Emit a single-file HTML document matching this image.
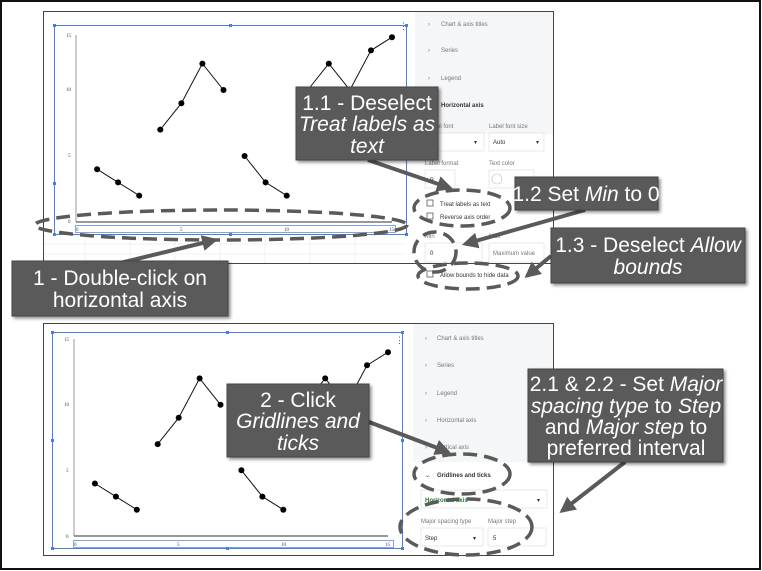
<!DOCTYPE html>
<html><head><meta charset="utf-8"><style>
html,body{margin:0;padding:0;background:#fff;}
svg{display:block;}
.t{font-family:"Liberation Sans Narrow","Liberation Sans",sans-serif;fill:#fff;font-size:21px;text-anchor:middle;}
.s{font-family:"Liberation Sans",sans-serif;font-size:6px;fill:#333;}
.g{font-family:"Liberation Sans",sans-serif;font-size:6px;fill:#777;}
.ax{font-family:"Liberation Serif",serif;font-size:5px;fill:#444;}
</style></head><body>
<svg width="762" height="571" viewBox="0 0 762 571" xmlns="http://www.w3.org/2000/svg">
<defs>
<filter id="sh" x="-10%" y="-10%" width="130%" height="130%"><feDropShadow dx="2" dy="2" stdDeviation="1.5" flood-color="#000" flood-opacity="0.45"/></filter>
<marker id="ah" markerWidth="4" markerHeight="4" refX="3.2" refY="2" orient="auto" markerUnits="strokeWidth"><path d="M0,0 L4,2 L0,4 z" fill="#5a5a5a"/></marker>
</defs>
<rect x="1" y="1" width="759" height="568" fill="#fff" stroke="#111" stroke-width="2"/>

<!-- TOP PANEL -->
<rect x="43" y="11" width="510" height="404" fill="none"/>
<g>
<rect x="43.5" y="11.5" width="510" height="252" fill="#fff" stroke="#444"/>
<g stroke="#e6e6e6" stroke-width="0.6">
<line x1="44" y1="244" x2="405" y2="244"/><line x1="44" y1="254" x2="405" y2="254"/>
<line x1="85" y1="236" x2="85" y2="263"/><line x1="130" y1="236" x2="130" y2="263"/><line x1="175" y1="236" x2="175" y2="263"/><line x1="220" y1="236" x2="220" y2="263"/><line x1="265" y1="236" x2="265" y2="263"/><line x1="310" y1="236" x2="310" y2="263"/><line x1="355" y1="236" x2="355" y2="263"/>
</g>
<rect x="415" y="12" width="138" height="122" fill="#f5f6f7"/>
<rect x="54.5" y="25.5" width="352" height="209" fill="none" stroke="#4a7fe0" stroke-width="1"/>
<g fill="#4a7fe0"><rect x="53" y="24" width="3" height="3"/><rect x="229" y="24" width="3" height="3"/><rect x="405" y="24" width="3" height="3"/><rect x="53" y="182" width="3" height="3"/><rect x="53" y="233" width="3" height="3"/><rect x="229" y="233" width="3" height="3"/><rect x="405" y="233" width="3" height="3"/></g>
<line x1="76" y1="35" x2="76" y2="222" stroke="#555" stroke-width="0.6"/>
<line x1="76" y1="222" x2="392" y2="222" stroke="#777" stroke-width="1.5"/>
<rect x="75.5" y="225.5" width="320" height="7" fill="none" stroke="#4a7fe0" stroke-width="0.7"/>
<text class="ax" x="66" y="37">15</text><text class="ax" x="66" y="91">10</text><text class="ax" x="68" y="157">5</text><text class="ax" x="68" y="223">0</text>
<text class="ax" x="76" y="231">0</text><text class="ax" x="180" y="231">5</text><text class="ax" x="284" y="231">10</text><text class="ax" x="389" y="231">15</text>
<text x="399" y="29" font-size="9" fill="#555" font-family="Liberation Sans,sans-serif">⋮</text>
<g stroke="#111" stroke-width="1" fill="none">
<polyline points="97.1,169.2 118.1,182.4 139.2,195.6"/>
<polyline points="160.3,129.6 181.4,103.2 202.4,63.6 223.5,90"/>
<polyline points="244.6,156 265.6,182.4 286.7,195.6"/>
<polyline points="307.8,90 328.8,63.6 349.9,90 371,50.4 392,37.2"/>
</g>
<g fill="#000">
<circle cx="97.1" cy="169.2" r="3"/><circle cx="118.1" cy="182.4" r="3"/><circle cx="139.2" cy="195.6" r="3"/>
<circle cx="160.3" cy="129.6" r="3"/><circle cx="181.4" cy="103.2" r="3"/><circle cx="202.4" cy="63.6" r="3"/><circle cx="223.5" cy="90" r="3"/>
<circle cx="244.6" cy="156" r="3"/><circle cx="265.6" cy="182.4" r="3"/><circle cx="286.7" cy="195.6" r="3"/>
<circle cx="328.8" cy="63.6" r="3"/><circle cx="371" cy="50.4" r="3"/><circle cx="392" cy="37.2" r="3"/>
</g>
<!-- sidebar -->
<g class="g"><text x="428" y="26" font-size="6">›</text><text x="441" y="26">Chart &amp; axis titles</text>
<text x="428" y="52">›</text><text x="441" y="52">Series</text>
<text x="428" y="80">›</text><text x="441" y="80">Legend</text></g>
<text class="s" x="441" y="107" font-weight="bold">Horizontal axis</text>
<text class="g" x="427" y="128" font-size="5">Label font</text><text class="g" x="489" y="128" font-size="5">Label font size</text>
<rect x="427" y="133" width="57" height="18" fill="#fff" stroke="#ddd" stroke-width="0.6"/><rect x="489" y="133" width="55" height="18" fill="#fff" stroke="#ddd" stroke-width="0.6"/>
<text class="s" x="493" y="144">Auto</text><text class="s" x="474" y="144">▾</text><text class="s" x="536" y="144">▾</text>
<text class="g" x="425" y="165" font-size="5">Label format</text><text class="g" x="489" y="165" font-size="5">Text color</text>
<rect x="425" y="170" width="30" height="18" fill="#fff" stroke="#ddd" stroke-width="0.6"/><rect x="489" y="170" width="45" height="18" fill="#fff" stroke="#ddd" stroke-width="0.6"/>
<circle cx="497" cy="179" r="5" fill="#fff" stroke="#bbb" stroke-width="0.6"/><text class="s" x="430" y="182">B</text>
<rect x="427" y="200" width="6" height="6" fill="#fff" stroke="#444" stroke-width="0.7"/><text class="s" x="440" y="206">Treat labels as text</text>
<rect x="427" y="213" width="6" height="6" fill="#fff" stroke="#444" stroke-width="0.7"/><text class="s" x="440" y="219">Reverse axis order</text>
<text class="g" x="425" y="238" font-size="5">Min</text><text class="g" x="489" y="238" font-size="5">Max</text>
<rect x="425" y="243" width="57" height="19" fill="#fff" stroke="#ddd" stroke-width="0.6"/><rect x="489" y="243" width="55" height="19" fill="#fff" stroke="#ddd" stroke-width="0.6"/>
<text class="s" x="430" y="255">0</text><text class="g" x="493" y="255">Maximum value</text>
<rect x="427" y="271" width="6" height="6" fill="#fff" stroke="#444" stroke-width="0.7"/><text class="s" x="440" y="277">Allow bounds to hide data</text>
</g>

<!-- BOTTOM PANEL -->
<rect x="43.5" y="323.5" width="510" height="232" fill="#fff" stroke="#444"/>
<rect x="413" y="324" width="140" height="138" fill="#f5f6f7"/>
<rect x="52.5" y="332.5" width="350" height="216" fill="none" stroke="#4a7fe0"/>
<g fill="#4a7fe0"><rect x="51" y="331" width="3" height="3"/><rect x="226" y="331" width="3" height="3"/><rect x="401" y="331" width="3" height="3"/><rect x="51" y="439" width="3" height="3"/><rect x="401" y="439" width="3" height="3"/><rect x="51" y="547" width="3" height="3"/><rect x="226" y="547" width="3" height="3"/><rect x="401" y="547" width="3" height="3"/></g>
<line x1="74" y1="339" x2="74" y2="536" stroke="#555" stroke-width="0.6"/>
<line x1="74" y1="536" x2="388" y2="536" stroke="#777" stroke-width="1.5"/>
<rect x="73.5" y="540.5" width="320" height="7" fill="none" stroke="#4a7fe0" stroke-width="0.7"/>
<text class="ax" x="64" y="341">15</text><text class="ax" x="64" y="406">10</text><text class="ax" x="66" y="472">5</text><text class="ax" x="66" y="538">0</text>
<text class="ax" x="74" y="546">0</text><text class="ax" x="177" y="546">5</text><text class="ax" x="281" y="546">10</text><text class="ax" x="385" y="546">15</text>
<text x="395" y="343" font-size="9" fill="#555" font-family="Liberation Sans,sans-serif">⋮</text>
<g stroke="#111" stroke-width="1" fill="none">
<polyline points="94.9,483.5 115.9,496.6 136.8,509.7"/>
<polyline points="157.7,444.1 178.7,417.8 199.6,378.4 220.5,404.7"/>
<polyline points="241.4,470.3 262.4,496.6 283.3,509.7"/>
<polyline points="304.2,404.7 325.2,378.4 346.1,404.7 367,365.3 388,352.2"/>
</g>
<g fill="#000">
<circle cx="94.9" cy="483.5" r="3"/><circle cx="115.9" cy="496.6" r="3"/><circle cx="136.8" cy="509.7" r="3"/>
<circle cx="157.7" cy="444.1" r="3"/><circle cx="178.7" cy="417.8" r="3"/><circle cx="199.6" cy="378.4" r="3"/><circle cx="220.5" cy="404.7" r="3"/>
<circle cx="241.4" cy="470.3" r="3"/><circle cx="262.4" cy="496.6" r="3"/><circle cx="283.3" cy="509.7" r="3"/>
<circle cx="325.2" cy="378.4" r="3"/><circle cx="367" cy="365.3" r="3"/><circle cx="388" cy="352.2" r="3"/>
</g>
<g class="g"><text x="425" y="340">›</text><text x="437" y="340">Chart &amp; axis titles</text>
<text x="425" y="367">›</text><text x="437" y="367">Series</text>
<text x="425" y="395">›</text><text x="437" y="395">Legend</text>
<text x="425" y="422">›</text><text x="437" y="422">Horizontal axis</text>
<text x="425" y="449">›</text><text x="437" y="449">Vertical axis</text></g>
<text class="s" x="425" y="477">⌄</text><text class="s" x="437" y="477" font-weight="bold">Gridlines and ticks</text>
<rect x="421" y="490" width="126" height="18" fill="#fff" stroke="#ddd" stroke-width="0.6"/>
<text class="s" x="425" y="502" fill="#1e7e34" font-weight="bold" style="fill:#1e7e34">Horizontal axis</text><text class="s" x="537" y="502">▾</text>
<text class="g" x="421" y="523" font-size="5">Major spacing type</text><text class="g" x="488" y="523" font-size="5">Major step</text>
<rect x="421" y="528" width="62" height="18" fill="#fff" stroke="#ddd" stroke-width="0.6"/><rect x="488" y="528" width="58" height="18" fill="#fff" stroke="#ddd" stroke-width="0.6"/>
<text class="s" x="425" y="540">Step</text><text class="s" x="473" y="540">▾</text><text class="s" x="493" y="540">5</text>

<!-- dashed ellipses -->
<g fill="none" stroke="#5a5a5a" stroke-width="3.5" stroke-dasharray="14,7">
<ellipse cx="221" cy="225" rx="186" ry="15"/>
<ellipse cx="462" cy="208" rx="48" ry="18"/>
<ellipse cx="435" cy="252" rx="21" ry="20"/>
<ellipse cx="468" cy="276" rx="50" ry="13"/>
<ellipse cx="462" cy="474" rx="48" ry="20"/>
<ellipse cx="466" cy="527" rx="66" ry="28"/>
</g>

<!-- arrows -->
<g stroke="#5a5a5a" stroke-width="4" fill="none" marker-end="url(#ah)">
<line x1="368" y1="160" x2="450" y2="188"/>
<line x1="585" y1="210" x2="465" y2="244"/>
<line x1="551" y1="256" x2="527" y2="276"/>
<line x1="120" y1="263" x2="215" y2="240"/>
<line x1="369" y1="422" x2="448" y2="452"/>
<line x1="625" y1="462" x2="562" y2="511"/>
</g>

<!-- callouts -->
<g filter="url(#sh)" fill="#5a5a5a" stroke="#444" stroke-width="1">
<rect x="296" y="87" width="142" height="73"/>
<rect x="515" y="177" width="143" height="33"/>
<rect x="551" y="228" width="194" height="55"/>
<rect x="12" y="261" width="216" height="55"/>
<rect x="227" y="384" width="142" height="73"/>
<rect x="528" y="369" width="195" height="93"/>
</g>
<g class="t">
<text x="367" y="110">1.1 - Deselect</text>
<text x="367" y="131" font-style="italic">Treat labels as</text>
<text x="367" y="153" font-style="italic">text</text>
<text x="586" y="201">1.2 Set <tspan font-style="italic">Min</tspan> to 0</text>
<text x="648" y="252">1.3 - Deselect <tspan font-style="italic">Allow</tspan></text>
<text x="648" y="274" font-style="italic">bounds</text>
<text x="120" y="285">1 - Double-click on</text>
<text x="120" y="307">horizontal axis</text>
<text x="298" y="407">2 - Click</text>
<text x="298" y="428" font-style="italic">Gridlines and</text>
<text x="298" y="450" font-style="italic">ticks</text>
<text x="626" y="391">2.1 &amp; 2.2 - Set <tspan font-style="italic">Major</tspan></text>
<text x="626" y="413"><tspan font-style="italic">spacing type</tspan> to <tspan font-style="italic">Step</tspan></text>
<text x="626" y="434">and <tspan font-style="italic">Major step</tspan> to</text>
<text x="626" y="455">preferred interval</text>
</g>
</svg>
</body></html>
